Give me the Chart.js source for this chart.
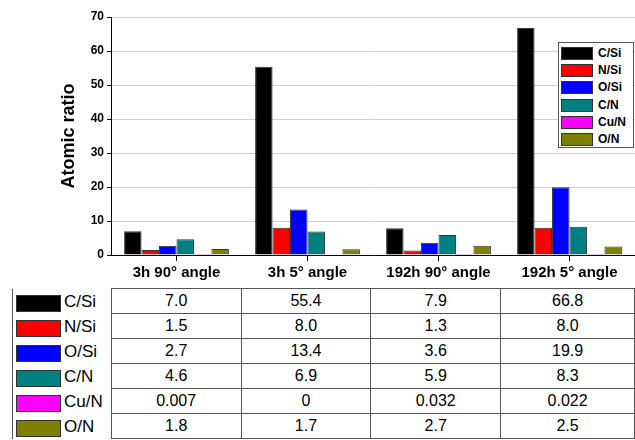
<!DOCTYPE html>
<html lang="en">
<head>
<meta charset="UTF-8">
<title>Atomic ratio</title>
<style>
  body { margin: 0; background: #fff; font-family: Arial, "Liberation Sans", sans-serif; }
  #wrap { position: relative; width: 635px; height: 440px; overflow: hidden; }
  #chart { position: absolute; left: 0; top: 0; }
  #legend {
    position: absolute; left: 558px; top: 42px; width: 76px; height: 106px;
    border: 1px solid #555; background: #fff; box-sizing: border-box; padding-top: 2px;
  }
  .lg-row { height: 17.2px; position: relative; }
  .lg-sw { position: absolute; left: 2px; top: 2px; width: 30px; height: 11px; border: 1px solid #333; }
  .lg-tx { position: absolute; left: 39px; top: 0; font: bold 12px Arial, sans-serif; line-height: 16px; color: #000; }
  #table { position: absolute; left: 12px; top: 288px; border-collapse: collapse; table-layout: fixed; }
  #table td { border: 1px solid #555; height: 24px; padding: 0; font-size: 16px; color: #000; text-align: center; }
  #table td.lab { border-top: none; border-bottom: none; text-align: left; position: relative; }
  #table tr:first-child td.lab { border-top: 1px solid #555; }
  .sw { position: absolute; left: 3px; top: 6px; width: 43px; height: 15px; border: 1px solid #333; }
  .tx { position: absolute; left: 51px; top: 3px; font-size: 17px; }
</style>
</head>
<body>
<div id="wrap">
  <canvas id="chart" width="635" height="288"></canvas>
  <div id="legend"></div>
  <table id="table"></table>
</div>
<script src="https://cdn.jsdelivr.net/npm/chart.js"></script>
<script>
  const categories = ['3h 90° angle', '3h 5° angle', '192h 90° angle', '192h 5° angle'];
  const seriesNames = ['C/Si', 'N/Si', 'O/Si', 'C/N', 'Cu/N', 'O/N'];
  const seriesColors = ['#000000', '#ff0000', '#0000ff', '#008080', '#ff00ff', '#808000'];
  const cSi = [7.0, 55.4, 7.9, 66.8];
  const nSi = [1.5, 8.0, 1.3, 8.0];
  const oSi = [2.7, 13.4, 3.6, 19.9];
  const cN = [4.6, 6.9, 5.9, 8.3];
  const cuN = [0.007, 0, 0.032, 0.022];
  const oN = [1.8, 1.7, 2.7, 2.5];
  const tableText = [
    ['7.0', '55.4', '7.9', '66.8'],
    ['1.5', '8.0', '1.3', '8.0'],
    ['2.7', '13.4', '3.6', '19.9'],
    ['4.6', '6.9', '5.9', '8.3'],
    ['0.007', '0', '0.032', '0.022'],
    ['1.8', '1.7', '2.7', '2.5']
  ];
  const allSeries = [cSi, nSi, oSi, cN, cuN, oN];

  const datasets = allSeries.map((vals, i) => ({
    label: seriesNames[i],
    data: vals,
    backgroundColor: seriesColors[i],
    borderColor: '#333',
    borderWidth: 1,
    categoryPercentage: 0.8,
    barPercentage: 1.0
  }));

  new Chart(document.getElementById('chart'), {
    type: 'bar',
    data: { labels: categories, datasets: datasets },
    options: {
      responsive: false,
      animation: false,
      layout: { padding: { top: 17, right: 0, bottom: 0, left: 58 } },
      plugins: { legend: { display: false }, tooltip: { enabled: false } },
      scales: {
        x: {
          grid: { offset: false, drawOnChartArea: false, tickLength: 6, tickColor: '#000' },
          border: { color: '#000', width: 1 },
          ticks: { color: '#000', padding: 3, font: { family: 'Arial', size: 15, weight: 'bold' } },
          afterFit: s => { s.height = 33; }
        },
        y: {
          min: 0, max: 70,
          grid: {
            color: c => (c.tick && c.tick.value % 10 === 0) ? '#cfcfcf' : 'rgba(0,0,0,0)',
            tickColor: '#000', tickLength: 4
          },
          border: { color: '#000', width: 1 },
          ticks: {
            stepSize: 5, color: '#000', padding: 3,
            font: { family: 'Arial', size: 12, weight: 'bold' },
            callback: v => v % 10 === 0 ? v : ''
          },
          title: { display: true, text: 'Atomic ratio', color: '#000', font: { family: 'Arial', size: 18, weight: 'bold' }, padding: { top: 0, bottom: 0 } },
          afterFit: s => { s.width = 53; }
        }
      }
    }
  });

  // legend inside plot
  const legend = document.getElementById('legend');
  seriesNames.forEach((name, i) => {
    const row = document.createElement('div');
    row.className = 'lg-row';
    row.innerHTML = '<span class="lg-sw" style="background:' + seriesColors[i] + '"></span><span class="lg-tx">' + name + '</span>';
    legend.appendChild(row);
  });

  // data table under the chart
  const table = document.getElementById('table');
  const colWidths = [100, 131, 131, 131, 135];
  const cg = document.createElement('colgroup');
  colWidths.forEach(w => {
    const col = document.createElement('col');
    col.style.width = w + 'px';
    cg.appendChild(col);
  });
  table.appendChild(cg);
  seriesNames.forEach((name, i) => {
    const tr = document.createElement('tr');
    const lab = document.createElement('td');
    lab.className = 'lab';
    lab.innerHTML = '<span class="sw" style="background:' + seriesColors[i] + '"></span><span class="tx">' + name + '</span>';
    tr.appendChild(lab);
    tableText[i].forEach(t => {
      const td = document.createElement('td');
      td.textContent = t;
      tr.appendChild(td);
    });
    table.appendChild(tr);
  });
</script>
</body>
</html>
